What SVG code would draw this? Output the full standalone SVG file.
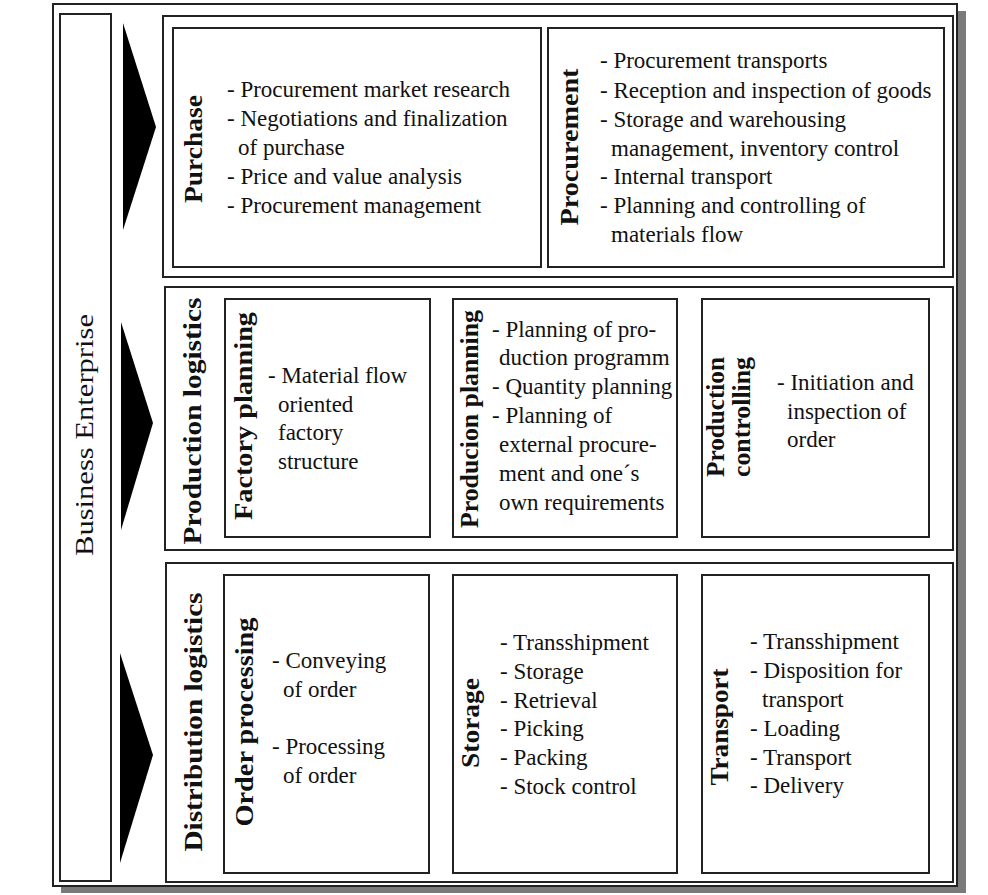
<svg xmlns="http://www.w3.org/2000/svg" width="988" height="895" viewBox="0 0 988 895">
<style>
.frame{fill:#fff;stroke:#222;stroke-width:2}
.box{fill:#fff;stroke:#222;stroke-width:2}
.t{font-family:"Liberation Serif","Times New Roman",serif;font-size:23px;fill:#111}
.lb{font-family:"Liberation Serif","Times New Roman",serif;font-size:26px;font-weight:bold;fill:#111;text-anchor:middle}
.arrow{fill:#000}
</style>
<rect width="988" height="895" fill="#fff"/>
<g id="outer">
<rect x="61" y="11" width="905" height="882" fill="#7a7a7a"/>
<rect class="frame" x="53" y="4" width="904" height="882"/>
</g>
<g id="business-enterprise">
<rect class="box" x="60" y="14" width="51" height="867"/>
<text transform="translate(93,435) rotate(-90)" style="font-family:'Liberation Serif','Times New Roman',serif;font-size:26px;fill:#111;text-anchor:middle" textLength="242" lengthAdjust="spacingAndGlyphs">Business Enterprise</text>
</g>
<g id="connectors">
<polygon class="arrow" points="123,23 156,127 123,230"/>
<polygon class="arrow" points="121,322 153,423 121,530"/>
<polygon class="arrow" points="120,653 153,755 120,863"/>
</g>
<g id="section-purchase">
<rect class="frame" x="163" y="16" width="790" height="261"/>
</g>
<g id="purchase">
<rect class="box" x="173" y="28" width="368" height="239"/>
<text class="lb" transform="translate(202,149) rotate(-90)" textLength="108" lengthAdjust="spacingAndGlyphs">Purchase</text>
<text class="t" x="227" y="97">- Procurement market research</text>
<text class="t" x="227" y="126">- Negotiations and finalization</text>
<text class="t" x="238" y="155">of purchase</text>
<text class="t" x="227" y="184">- Price and value analysis</text>
<text class="t" x="227" y="213">- Procurement management</text>
</g>
<g id="procurement">
<rect class="box" x="548" y="28" width="396" height="239"/>
<text class="lb" transform="translate(578,147) rotate(-90)" textLength="157" lengthAdjust="spacingAndGlyphs">Procurement</text>
<text class="t" x="600" y="68">- Procurement transports</text>
<text class="t" x="600" y="98">- Reception and inspection of goods</text>
<text class="t" x="600" y="127">- Storage and warehousing</text>
<text class="t" x="611" y="156">management, inventory control</text>
<text class="t" x="600" y="184">- Internal transport</text>
<text class="t" x="600" y="213">- Planning and controlling of</text>
<text class="t" x="611" y="242">materials flow</text>
</g>
<g id="production-logistics">
<rect class="frame" x="165" y="287" width="788" height="263"/>
<text class="lb" transform="translate(201,421) rotate(-90)" textLength="247" lengthAdjust="spacingAndGlyphs">Production logistics</text>
</g>
<g id="factory-planning">
<rect class="box" x="225" y="299" width="205" height="238"/>
<text class="lb" transform="translate(252,416) rotate(-90)" textLength="208" lengthAdjust="spacingAndGlyphs">Factory planning</text>
<text class="t" x="268" y="383">- Material flow</text>
<text class="t" x="278" y="412">oriented</text>
<text class="t" x="278" y="440">factory</text>
<text class="t" x="278" y="469">structure</text>
</g>
<g id="production-planning">
<rect class="box" x="453" y="299" width="224" height="238"/>
<text class="lb" transform="translate(478,419) rotate(-90)" textLength="218" lengthAdjust="spacingAndGlyphs">Producion planning</text>
<text class="t" x="492" y="337">- Planning of pro-</text>
<text class="t" x="499" y="365">duction programm</text>
<text class="t" x="492" y="394">- Quantity planning</text>
<text class="t" x="492" y="423">- Planning of</text>
<text class="t" x="499" y="452">external procure-</text>
<text class="t" x="499" y="481">ment and one´s</text>
<text class="t" x="499" y="510">own requirements</text>
</g>
<g id="production-controlling">
<rect class="box" x="702" y="299" width="227" height="238"/>
<text class="lb" transform="translate(724,477) rotate(-90)" style="text-anchor:start" textLength="120" lengthAdjust="spacingAndGlyphs">Production</text>
<text class="lb" transform="translate(750,477) rotate(-90)" style="text-anchor:start" textLength="120" lengthAdjust="spacingAndGlyphs">controlling</text>
<text class="t" x="777" y="390">- Initiation and</text>
<text class="t" x="787" y="419">inspection of</text>
<text class="t" x="787" y="447">order</text>
</g>
<g id="distribution-logistics">
<rect class="frame" x="166" y="563" width="787" height="319"/>
<text class="lb" transform="translate(202,722) rotate(-90)" textLength="259" lengthAdjust="spacingAndGlyphs">Distribution logistics</text>
</g>
<g id="order-processing">
<rect class="box" x="224" y="575" width="205" height="298"/>
<text class="lb" transform="translate(253,722) rotate(-90)" textLength="209" lengthAdjust="spacingAndGlyphs">Order processing</text>
<text class="t" x="272" y="668">- Conveying</text>
<text class="t" x="283" y="697">of order</text>
<text class="t" x="272" y="754">- Processing</text>
<text class="t" x="283" y="783">of order</text>
</g>
<g id="storage">
<rect class="box" x="453" y="575" width="224" height="298"/>
<text class="lb" transform="translate(479,723) rotate(-90)" textLength="90" lengthAdjust="spacingAndGlyphs">Storage</text>
<text class="t" x="500" y="650">- Transshipment</text>
<text class="t" x="500" y="679">- Storage</text>
<text class="t" x="500" y="708">- Retrieval</text>
<text class="t" x="500" y="736">- Picking</text>
<text class="t" x="500" y="765">- Packing</text>
<text class="t" x="500" y="794">- Stock control</text>
</g>
<g id="transport">
<rect class="box" x="702" y="575" width="227" height="298"/>
<text class="lb" transform="translate(728,727) rotate(-90)" textLength="117" lengthAdjust="spacingAndGlyphs">Transport</text>
<text class="t" x="750" y="649">- Transshipment</text>
<text class="t" x="750" y="678">- Disposition for</text>
<text class="t" x="762" y="707">transport</text>
<text class="t" x="750" y="736">- Loading</text>
<text class="t" x="750" y="765">- Transport</text>
<text class="t" x="750" y="793">- Delivery</text>
</g>
</svg>
